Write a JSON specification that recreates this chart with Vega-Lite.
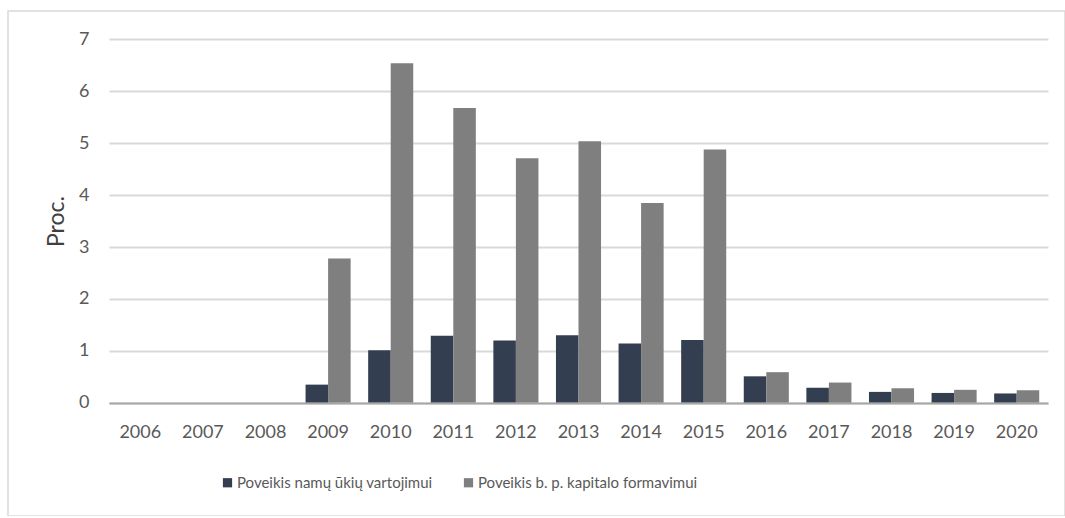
{
  "$schema": "https://vega.github.io/schema/vega-lite/v6.json",
  "width": 1057,
  "height": 505,
  "autosize": {"type": "none"},
  "padding": {"left": 8, "top": 11, "right": 0, "bottom": 0},
  "background": "white",
  "config": {
    "view": {"stroke": "#D9D9D9", "strokeWidth": 1.5},
    "font": "Lato"
  },
  "data": {
    "values": [
      {"year": "2006", "series": "Poveikis namų ūkių vartojimui", "value": 0},
      {"year": "2006", "series": "Poveikis b. p. kapitalo formavimui", "value": 0},
      {"year": "2007", "series": "Poveikis namų ūkių vartojimui", "value": 0},
      {"year": "2007", "series": "Poveikis b. p. kapitalo formavimui", "value": 0},
      {"year": "2008", "series": "Poveikis namų ūkių vartojimui", "value": 0},
      {"year": "2008", "series": "Poveikis b. p. kapitalo formavimui", "value": 0},
      {"year": "2009", "series": "Poveikis namų ūkių vartojimui", "value": 0.35},
      {"year": "2009", "series": "Poveikis b. p. kapitalo formavimui", "value": 2.78},
      {"year": "2010", "series": "Poveikis namų ūkių vartojimui", "value": 1.01},
      {"year": "2010", "series": "Poveikis b. p. kapitalo formavimui", "value": 6.54},
      {"year": "2011", "series": "Poveikis namų ūkių vartojimui", "value": 1.29},
      {"year": "2011", "series": "Poveikis b. p. kapitalo formavimui", "value": 5.68},
      {"year": "2012", "series": "Poveikis namų ūkių vartojimui", "value": 1.2},
      {"year": "2012", "series": "Poveikis b. p. kapitalo formavimui", "value": 4.71},
      {"year": "2013", "series": "Poveikis namų ūkių vartojimui", "value": 1.3},
      {"year": "2013", "series": "Poveikis b. p. kapitalo formavimui", "value": 5.04},
      {"year": "2014", "series": "Poveikis namų ūkių vartojimui", "value": 1.14},
      {"year": "2014", "series": "Poveikis b. p. kapitalo formavimui", "value": 3.85},
      {"year": "2015", "series": "Poveikis namų ūkių vartojimui", "value": 1.21},
      {"year": "2015", "series": "Poveikis b. p. kapitalo formavimui", "value": 4.88},
      {"year": "2016", "series": "Poveikis namų ūkių vartojimui", "value": 0.51},
      {"year": "2016", "series": "Poveikis b. p. kapitalo formavimui", "value": 0.59},
      {"year": "2017", "series": "Poveikis namų ūkių vartojimui", "value": 0.29},
      {"year": "2017", "series": "Poveikis b. p. kapitalo formavimui", "value": 0.39},
      {"year": "2018", "series": "Poveikis namų ūkių vartojimui", "value": 0.21},
      {"year": "2018", "series": "Poveikis b. p. kapitalo formavimui", "value": 0.28},
      {"year": "2019", "series": "Poveikis namų ūkių vartojimui", "value": 0.19},
      {"year": "2019", "series": "Poveikis b. p. kapitalo formavimui", "value": 0.25},
      {"year": "2020", "series": "Poveikis namų ūkių vartojimui", "value": 0.18},
      {"year": "2020", "series": "Poveikis b. p. kapitalo formavimui", "value": 0.24}
    ]
  },
  "mark": {"type": "bar"},
  "encoding": {
    "x": {
      "field": "year",
      "type": "ordinal",
      "scale": {"range": [101, 1040], "paddingInner": 0.28, "paddingOuter": 0.14},
      "axis": {
        "title": null,
        "orient": "bottom",
        "offset": -113,
        "labelAngle": 0,
        "labelFontSize": 18,
        "labelColor": "#595959",
        "labelPadding": 20,
        "ticks": false,
        "tickSize": 0,
        "domainColor": "#A6A6A6",
        "domainWidth": 2,
        "grid": false,
        "zindex": 1
      }
    },
    "xOffset": {
      "field": "series",
      "sort": ["Poveikis namų ūkių vartojimui", "Poveikis b. p. kapitalo formavimui"]
    },
    "y": {
      "field": "value",
      "type": "quantitative",
      "scale": {"domain": [0, 7], "range": [391.8, 28.4], "nice": false},
      "axis": {
        "title": "Proc.",
        "offset": -101,
        "values": [0, 1, 2, 3, 4, 5, 6, 7],
        "domain": false,
        "ticks": false,
        "tickSize": 0,
        "labelPadding": 20,
        "labelFontSize": 18,
        "labelColor": "#595959",
        "grid": true,
        "gridColor": "#D9D9D9",
        "gridWidth": 2,
        "titleFontSize": 23,
        "titleFontWeight": "normal",
        "titleColor": "#404040",
        "titlePadding": 10
      }
    },
    "color": {
      "field": "series",
      "type": "nominal",
      "scale": {
        "domain": ["Poveikis namų ūkių vartojimui", "Poveikis b. p. kapitalo formavimui"],
        "range": ["#333F50", "#7F7F7F"]
      },
      "legend": {
        "title": null,
        "orient": "none",
        "legendX": 212,
        "legendY": 464,
        "direction": "horizontal",
        "columns": 2,
        "columnPadding": 28,
        "symbolType": "square",
        "symbolSize": 85,
        "symbolStrokeWidth": 0,
        "labelFontSize": 15,
        "labelColor": "#595959",
        "labelOffset": 2,
        "labelLimit": 0
      }
    }
  }
}
